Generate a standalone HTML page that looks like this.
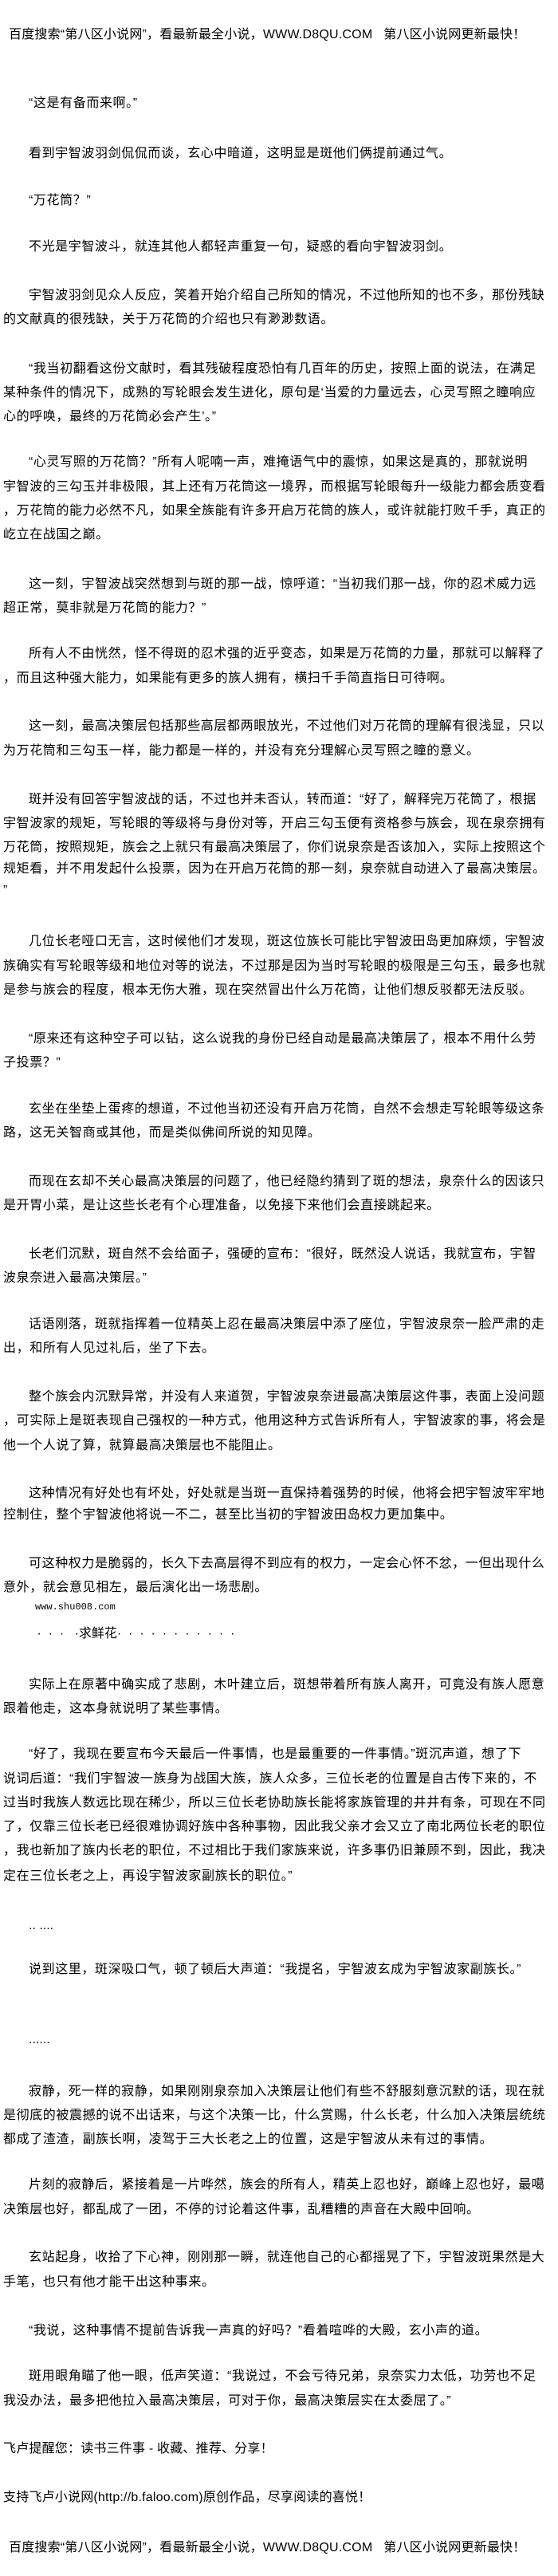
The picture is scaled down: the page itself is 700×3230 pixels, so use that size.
<!DOCTYPE html>
<html><head><meta charset="utf-8"><style>
html,body{margin:0;padding:0;background:#fff;}
body{width:700px;height:3230px;position:relative;overflow:hidden;font-family:"Liberation Sans","Noto Sans CJK SC",sans-serif;color:#000;}
.l{position:absolute;white-space:nowrap;font-size:16px;line-height:22px;letter-spacing:0.6px;left:4px;}
.i{left:36px;}
.h{left:11px;letter-spacing:0.2px;}
.s{font-family:"Liberation Mono","Noto Sans CJK SC",monospace;font-size:12px;left:44px;letter-spacing:0;}
</style></head><body>
<div class="l h" style="top:33px">百度搜索“第八区小说网”，看最新最全小说，WWW.D8QU.COM&nbsp;&nbsp;&nbsp;第八区小说网更新最快！</div>
<div class="l i" style="top:119px">“这是有备而来啊。”</div>
<div class="l i" style="top:182px">看到宇智波羽剑侃侃而谈，玄心中暗道，这明显是斑他们俩提前通过气。</div>
<div class="l i" style="top:241px">“万花筒？”</div>
<div class="l i" style="top:299px">不光是宇智波斗，就连其他人都轻声重复一句，疑惑的看向宇智波羽剑。</div>
<div class="l i" style="top:360px">宇智波羽剑见众人反应，笑着开始介绍自己所知的情况，不过他所知的也不多，那份残缺</div>
<div class="l" style="top:390px">的文献真的很残缺，关于万花筒的介绍也只有渺渺数语。</div>
<div class="l i" style="top:452px">“我当初翻看这份文献时，看其残破程度恐怕有几百年的历史，按照上面的说法，在满足</div>
<div class="l" style="top:482px">某种条件的情况下，成熟的写轮眼会发生进化，原句是‘当爱的力量远去，心灵写照之瞳响应</div>
<div class="l" style="top:512px">心的呼唤，最终的万花筒必会产生’。”</div>
<div class="l i" style="top:569px">“心灵写照的万花筒？”所有人呢喃一声，难掩语气中的震惊，如果这是真的，那就说明</div>
<div class="l" style="top:600px">宇智波的三勾玉并非极限，其上还有万花筒这一境界，而根据写轮眼每升一级能力都会质变看</div>
<div class="l" style="top:630px">，万花筒的能力必然不凡，如果全族能有许多开启万花筒的族人，或许就能打败千手，真正的</div>
<div class="l" style="top:660px">屹立在战国之巅。</div>
<div class="l i" style="top:722px">这一刻，宇智波战突然想到与斑的那一战，惊呼道：“当初我们那一战，你的忍术威力远</div>
<div class="l" style="top:752px">超正常，莫非就是万花筒的能力？”</div>
<div class="l i" style="top:809px">所有人不由恍然，怪不得斑的忍术强的近乎变态，如果是万花筒的力量，那就可以解释了</div>
<div class="l" style="top:840px">，而且这种强大能力，如果能有更多的族人拥有，横扫千手简直指日可待啊。</div>
<div class="l i" style="top:900px">这一刻，最高决策层包括那些高层都两眼放光，不过他们对万花筒的理解有很浅显，只以</div>
<div class="l" style="top:931px">为万花筒和三勾玉一样，能力都是一样的，并没有充分理解心灵写照之瞳的意义。</div>
<div class="l i" style="top:992px">斑并没有回答宇智波战的话，不过也并未否认，转而道：“好了，解释完万花筒了，根据</div>
<div class="l" style="top:1022px">宇智波家的规矩，写轮眼的等级将与身份对等，开启三勾玉便有资格参与族会，现在泉奈拥有</div>
<div class="l" style="top:1052px">万花筒，按照规矩，族会之上就只有最高决策层了，你们说泉奈是否该加入，实际上按照这个</div>
<div class="l" style="top:1079px">规矩看，并不用发起什么投票，因为在开启万花筒的那一刻，泉奈就自动进入了最高决策层。</div>
<div class="l" style="top:1106px">”</div>
<div class="l i" style="top:1170px">几位长老哑口无言，这时候他们才发现，斑这位族长可能比宇智波田岛更加麻烦，宇智波</div>
<div class="l" style="top:1201px">族确实有写轮眼等级和地位对等的说法，不过那是因为当时写轮眼的极限是三勾玉，最多也就</div>
<div class="l" style="top:1231px">是参与族会的程度，根本无伤大雅，现在突然冒出什么万花筒，让他们想反驳都无法反驳。</div>
<div class="l i" style="top:1292px">“原来还有这种空子可以钻，这么说我的身份已经自动是最高决策层了，根本不用什么劳</div>
<div class="l" style="top:1322px">子投票？”</div>
<div class="l i" style="top:1380px">玄坐在坐垫上蛋疼的想道，不过他当初还没有开启万花筒，自然不会想走写轮眼等级这条</div>
<div class="l" style="top:1410px">路，这无关智商或其他，而是类似佛间所说的知见障。</div>
<div class="l i" style="top:1471px">而现在玄却不关心最高决策层的问题了，他已经隐约猜到了斑的想法，泉奈什么的因该只</div>
<div class="l" style="top:1501px">是开胃小菜，是让这些长老有个心理准备，以免接下来他们会直接跳起来。</div>
<div class="l i" style="top:1562px">长老们沉默，斑自然不会给面子，强硬的宣布：“很好，既然没人说话，我就宣布，宇智</div>
<div class="l" style="top:1592px">波泉奈进入最高决策层。”</div>
<div class="l i" style="top:1650px">话语刚落，斑就指挥着一位精英上忍在最高决策层中添了座位，宇智波泉奈一脸严肃的走</div>
<div class="l" style="top:1680px">出，和所有人见过礼后，坐了下去。</div>
<div class="l i" style="top:1741px">整个族会内沉默异常，并没有人来道贺，宇智波泉奈进最高决策层这件事，表面上没问题</div>
<div class="l" style="top:1771px">，可实际上是斑表现自己强权的一种方式，他用这种方式告诉所有人，宇智波家的事，将会是</div>
<div class="l" style="top:1802px">他一个人说了算，就算最高决策层也不能阻止。</div>
<div class="l i" style="top:1862px">这种情况有好处也有坏处，好处就是当斑一直保持着强势的时候，他将会把宇智波牢牢地</div>
<div class="l" style="top:1889px">控制住，整个宇智波他将说一不二，甚至比当初的宇智波田岛权力更加集中。</div>
<div class="l i" style="top:1950px">可这种权力是脆弱的，长久下去高层得不到应有的权力，一定会心怀不忿，一但出现什么</div>
<div class="l" style="top:1980px">意外，就会意见相左，最后演化出一场悲剧。</div>
<div class="l s" style="top:2004px">www.shu008.com</div>
<div class="l" style="top:2038px;left:42px;letter-spacing:0">&nbsp;·&nbsp;&nbsp;·&nbsp;&nbsp;·&nbsp;&nbsp;&nbsp;·求鲜花·&nbsp;&nbsp;·&nbsp;&nbsp;·&nbsp;&nbsp;·&nbsp;&nbsp;·&nbsp;&nbsp;·&nbsp;&nbsp;·&nbsp;&nbsp;·&nbsp;&nbsp;·&nbsp;&nbsp;·&nbsp;&nbsp;·</div>
<div class="l i" style="top:2102px">实际上在原著中确实成了悲剧，木叶建立后，斑想带着所有族人离开，可竟没有族人愿意</div>
<div class="l" style="top:2132px">跟着他走，这本身就说明了某些事情。</div>
<div class="l i" style="top:2189px">“好了，我现在要宣布今天最后一件事情，也是最重要的一件事情。”斑沉声道，想了下</div>
<div class="l" style="top:2220px">说词后道：“我们宇智波一族身为战国大族，族人众多，三位长老的位置是自古传下来的，不</div>
<div class="l" style="top:2250px">过当时我族人数远比现在稀少，所以三位长老协助族长能将家族管理的井井有条，可现在不同</div>
<div class="l" style="top:2280px">了，仅靠三位长老已经很难协调好族中各种事物，因此我父亲才会又立了南北两位长老的职位</div>
<div class="l" style="top:2310px">，我也新加了族内长老的职位，不过相比于我们家族来说，许多事仍旧兼顾不到，因此，我决</div>
<div class="l" style="top:2342px">定在三位长老之上，再设宇智波家副族长的职位。”</div>
<div class="l i" style="top:2404px;letter-spacing:0">.. ....</div>
<div class="l i" style="top:2459px">说到这里，斑深吸口气，顿了顿后大声道：“我提名，宇智波玄成为宇智波家副族长。”</div>
<div class="l i" style="top:2547px;letter-spacing:0">......</div>
<div class="l i" style="top:2612px">寂静，死一样的寂静，如果刚刚泉奈加入决策层让他们有些不舒服刻意沉默的话，现在就</div>
<div class="l" style="top:2642px">是彻底的被震撼的说不出话来，与这个决策一比，什么赏赐，什么长老，什么加入决策层统统</div>
<div class="l" style="top:2672px">都成了渣渣，副族长啊，凌驾于三大长老之上的位置，这是宇智波从未有过的事情。</div>
<div class="l i" style="top:2729px">片刻的寂静后，紧接着是一片哗然，族会的所有人，精英上忍也好，巅峰上忍也好，最噶</div>
<div class="l" style="top:2760px">决策层也好，都乱成了一团，不停的讨论着这件事，乱糟糟的声音在大殿中回响。</div>
<div class="l i" style="top:2820px">玄站起身，收拾了下心神，刚刚那一瞬，就连他自己的心都摇晃了下，宇智波斑果然是大</div>
<div class="l" style="top:2851px">手笔，也只有他才能干出这种事来。</div>
<div class="l i" style="top:2912px">“我说，这种事情不提前告诉我一声真的好吗？”看着喧哗的大殿，玄小声的道。</div>
<div class="l i" style="top:2969px">斑用眼角瞄了他一眼，低声笑道：“我说过，不会亏待兄弟，泉奈实力太低，功劳也不足</div>
<div class="l" style="top:3000px">我没办法，最多把他拉入最高决策层，可对于你，最高决策层实在太委屈了。”</div>
<div class="l" style="top:3060px;letter-spacing:0.2px">飞卢提醒您：读书三件事 - 收藏、推荐、分享！</div>
<div class="l" style="top:3121px;letter-spacing:0.2px">支持飞卢小说网(http://b.faloo.com)原创作品，尽享阅读的喜悦！</div>
<div class="l h" style="top:3184px">百度搜索“第八区小说网”，看最新最全小说，WWW.D8QU.COM&nbsp;&nbsp;&nbsp;第八区小说网更新最快！</div>
</body></html>
